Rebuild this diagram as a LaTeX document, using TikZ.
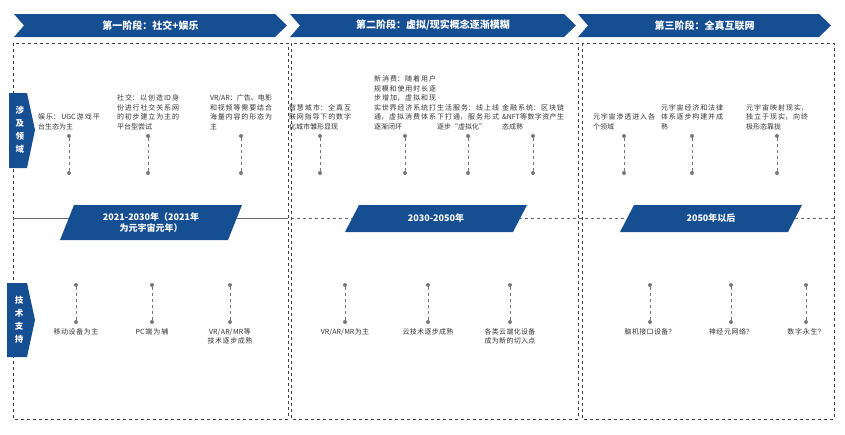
\documentclass[tikz,border=0pt]{standalone}
\usepackage{fontspec}
\setmainfont{Noto Sans CJK SC}
\XeTeXlinebreaklocale "zh"
\XeTeXlinebreakskip=0pt plus 1pt
\usetikzlibrary{positioning,calc}
\definecolor{stageblue}{RGB}{22,78,146}
\definecolor{pingrey}{RGB}{120,120,120}
\tikzset{
  panel/.style={draw=black!75,dashed,line width=0.6pt},
  pin/.style={draw=pingrey,dashed,line width=0.8pt},
  pindot/.style={circle,fill=pingrey,inner sep=0pt,minimum size=4pt},
  note/.style={font=\fontsize{7}{9.5}\selectfont,text=black!80,text width=#1,align=justify,inner sep=1pt},
  note/.default=62pt,
  headtext/.style={font=\fontsize{10}{12}\selectfont\bfseries,text=white},
  datetext/.style={font=\fontsize{9}{11}\selectfont\bfseries,text=white,align=center},
  sidetext/.style={font=\fontsize{8.5}{13}\selectfont\bfseries,text=white,align=center}
}
\begin{document}
\begin{tikzpicture}[x=1pt,y=-1pt]
\useasboundingbox (0,0) rectangle (845,434);
% panels
\draw[panel] (13,43) rectangle (288,419);
\draw[panel] (291,43) rectangle (578,419);
\draw[panel] (582,43) rectangle (834,419);
% divider
\draw[black!60,line width=0.8pt] (13,218) -- (288,218);
\draw[black!60,dashed,line width=0.8pt] (291,218) -- (834,218);
% stage headers
\foreach \a/\b/\t [count=\i] in {14/287/{第一阶段：社交+娱乐},290/576/{第二阶段：虚拟/现实概念逐渐模糊},578/831/{第三阶段：全真互联网}}{
  \fill[stageblue] (\a,14) -- (\b-12,14) -- (\b,25.5) -- (\b-12,37) -- (\a,37) -- (\a+10,25.5) -- cycle;
  \node[headtext] (H-\i) at ({(\a+\b)/2},25.5) {\t};
}
% date boxes
\fill[stageblue] (74,205) -- (242,205) -- (228,240) -- (60,240) -- cycle;
\node[datetext] (D-1) at (151,222.5) {2021-2030年（2021年\\为元宇宙元年）};
\fill[stageblue] (359,205) -- (527,205) -- (513,232) -- (345,232) -- cycle;
\node[datetext] (D-2) at (436,218.5) {2030-2050年};
\fill[stageblue] (634,205) -- (802,205) -- (788,232) -- (620,232) -- cycle;
\node[datetext] (D-3) at (711,218.5) {2050年以后};
% side labels
\fill[stageblue] (9,93) -- (27,93) -- (35,130) -- (27,168) -- (9,168) -- cycle;
\node[sidetext] (S-1) at (20,130) {涉\\及\\领\\域};
\fill[stageblue] (7,283) -- (27,283) -- (35,320) -- (27,357) -- (7,357) -- cycle;
\node[sidetext] (S-2) at (19,320) {技\\术\\支\\持};
% top pins
\foreach \x/\t [count=\i] in {
  69/{娱乐：UGC游戏平台生态为主},
  148/{社交：以创造ID身份进行社交关系网的初步建立为主的平台型尝试},
  241/{VR/AR：广告、电影和视频等需要结合海量内容的形态为主},
  320/{智慧城市：全真互联网指导下的数字化城市雏形显现},
  405/{新消费：随着用户规模和使用时长逐步增加，虚拟和现实世界经济系统打通，虚拟消费体系逐渐闭环},
  468/{生活服务：线上线下打通，服务形式逐步“虚拟化”},
  533/{金融系统：区块链\&NFT等数字资产生态成熟},
  624/{元宇宙渗透进入各个领域},
  692/{元宇宙经济和法律体系逐步构建并成熟},
  777/{元宇宙映射现实，独立于现实，向终极形态靠拢}}{
  \node[pindot] (TA-\i) at (\x,136) {};
  \node[pindot] (TB-\i) at (\x,173) {};
  \draw[pin] (TA-\i) -- (TB-\i);
  \node[note,anchor=south] (TN-\i) at (\x,131) {\t};
}
% bottom pins
\foreach \x/\t [count=\i] in {
  76/{移动设备为主},152/{PC端为辅},230/{VR/AR/MR等 技术逐步成熟},
  345/{VR/AR/MR为主},428/{云技术逐步成熟},510/{各类云端化设备成为新的切入点},
  650/{脑机接口设备？},731/{神经元网络？},806/{数字永生？}}{
  \node[pindot] (BA-\i) at (\x,285) {};
  \node[pindot] (BB-\i) at (\x,322) {};
  \draw[pin] (BA-\i) -- (BB-\i);
  \node[note=60pt,anchor=north,align=center] (BN-\i) at (\x,327) {\t};
}
\end{tikzpicture}
\end{document}
